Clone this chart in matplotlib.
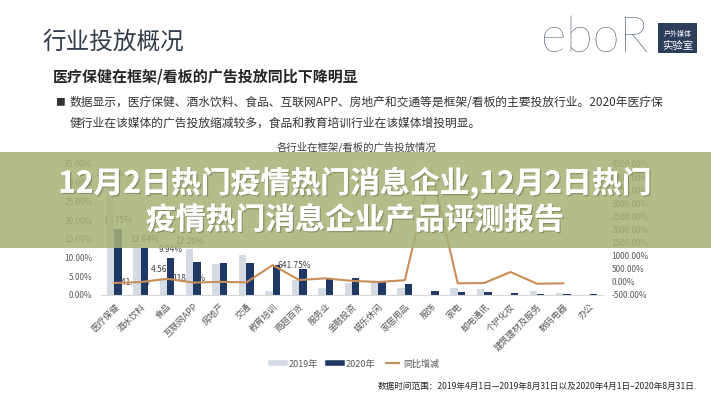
import numpy as np
import matplotlib
matplotlib.use("Agg")
import matplotlib.pyplot as plt
from matplotlib.lines import Line2D
from matplotlib.patches import Rectangle
import matplotlib.patheffects as pe

plt.rcParams['font.family'] = ['Noto Sans CJK SC', 'DejaVu Sans']

# ---------------- data ----------------
categories = ['医疗保健', '酒水饮料', '食品', '互联网APP', '房地产', '交通', '教育培训',
              '商超百货', '服务业', '金融投资', '娱乐休闲', '家居用品', '服饰', '家电',
              '邮电通讯', '个护化妆', '建筑建材及服务', '数码电器', '办公']
share_2019 = [30.35, 13.50, 4.56, 12.20, 8.30, 10.70, 1.08, 4.00, 1.95, 3.30,
              3.50, 1.80, 0.03, 1.97, 1.60, 0.13, 1.15, 0.60, 0.00]
share_2020 = [17.75, 12.64, 9.94, 8.90, 8.60, 8.60, 8.01, 6.90, 4.60, 4.60,
              3.40, 2.96, 1.10, 0.90, 0.90, 0.62, 0.35, 0.27, 0.25]
yoy_change = [-41.51, -6.37, 118.13, -27.05, 3.61, -19.63, 641.75, 72.50, 135.90, 39.40,
              -2.90, 64.40, 4300.00, -54.30, -43.80, 377.00, -69.60, -55.00, float('nan')]
left_ticks = [0, 5, 10, 15, 20, 25, 30, 35]
right_ticks = [-500, 0, 500, 1000, 1500, 2000, 2500, 3000, 3500, 4000, 4500]
# labelled values: (category index, series, text)
bar_labels = [(0, '2019', '30.35%'), (0, '2020', '17.75%'), (1, '2020', '12.64%'),
              (2, '2019', '4.56%'), (2, '2020', '9.94%'), (3, '2019', '12.20%')]
line_labels = [(0, '-41.51%'), (2, '118.13%'), (6, '641.75%')]

legend_names = ['2019年', '2020年', '同比增减']

# ---------------- style ----------------
W, H = 711, 400
C19 = '#d5dbe4'
C20 = '#1f3864'
CLINE = '#c98e58'
GRAY = '#595959'

fig = plt.figure(figsize=(W / 100, H / 100), dpi=100)
fig.patch.set_facecolor('white')

def fx(px):
    return px / W

def fy(py):
    return 1 - py / H

ax = fig.add_axes([fx(101), fy(295), fx(603) - fx(101), fy(164) - fy(295)])
ax.set_facecolor('none')
x = np.arange(len(categories))
bw = 0.28
ax.bar(x - bw / 2, share_2019, bw, color=C19, zorder=2)
ax.bar(x + bw / 2, share_2020, bw, color=C20, zorder=2)
ax.set_xlim(-0.5, len(categories) - 0.5)
ax.set_ylim(left_ticks[0], left_ticks[-1])
ax.set_yticks(left_ticks)
ax.set_yticklabels([f'{v:.2f}%' for v in left_ticks])
ax.tick_params(axis='y', length=0, pad=6, labelsize=6, labelcolor=GRAY)
ax.set_xticks(x)
ax.set_xticklabels(categories, rotation=45, ha='right', va='top',
                   rotation_mode='anchor', fontsize=6.4, color=GRAY)
ax.tick_params(axis='x', length=0, pad=5)
for s in ['top', 'left', 'right']:
    ax.spines[s].set_visible(False)
ax.spines['bottom'].set_color('#d9d9d9')

ax2 = ax.twinx()
ax2.set_ylim(right_ticks[0], right_ticks[-1])
ax2.set_yticks(right_ticks)
ax2.set_yticklabels([f'{v:.2f}%' for v in right_ticks])
ax2.tick_params(axis='y', length=0, pad=6, labelsize=6, labelcolor=GRAY)
for s in ax2.spines.values():
    s.set_visible(False)
ax2.plot(x, yoy_change, color=CLINE, lw=1.5, zorder=3)

for i, ser, txt in bar_labels:
    if ser == '2019':
        xx, yy = x[i] - bw / 2, share_2019[i]
    else:
        xx, yy = x[i] + bw / 2, share_2020[i]
    ax.annotate(txt, (xx, yy), xytext=(0, 2.5), textcoords='offset points',
                ha='center', va='bottom', fontsize=6, color='#404040', zorder=1)
for i, txt in line_labels:
    ax.annotate(txt, (x[i], yoy_change[i]), xycoords=ax2.transData,
                xytext=(3.5, 0), textcoords='offset points',
                ha='left', va='center', fontsize=6, color='#404040', zorder=1)

# chart title
fig.text(fx(357), fy(147), '各行业在框架/看板的广告投放情况', ha='center', va='center',
         fontsize=7.5, color='#404040')

# legend
handles = [Line2D([], [], color=C19, lw=4), Line2D([], [], color=C20, lw=4),
           Line2D([], [], color=CLINE, lw=1.5)]
leg = fig.legend(handles, legend_names, loc='center', bbox_to_anchor=(fx(355), fy(364)),
                 ncol=3, frameon=False, fontsize=6.5, handlelength=1.5,
                 handletextpad=0.4, columnspacing=1.2)
for t in leg.get_texts():
    t.set_color(GRAY)

# footnote
fig.text(fx(697), fy(386), '数据时间范围：2019年4月1日—2019年8月31日以及2020年4月1日–2020年8月31日.',
         ha='right', va='center', fontsize=6.2, color='#262626')

# header
fig.text(fx(42), fy(42), '行业投放概况', ha='left', va='center', fontsize=17, color='#333d4a')
fig.text(fx(541), fy(38), 'eboR', ha='left', va='center', fontsize=35,
         family=['Lato', 'DejaVu Sans'], fontweight='light', color='#34445c')
fig.patches.append(Rectangle((fx(658), fy(53)), fx(697) - fx(658), fy(23) - fy(53),
                             transform=fig.transFigure, facecolor='#2c3e5c', edgecolor='none'))
fig.text(fx(677.5), fy(34), '户外媒体', ha='center', va='center', fontsize=5, color='white')
fig.text(fx(677.5), fy(46), '实验室', ha='center', va='center', fontsize=7.5, color='white')
fig.text(fx(53), fy(77), '医疗保健在框架/看板的广告投放同比下降明显', ha='left', va='center',
         fontsize=10.8, fontweight='bold', color='#262626')
fig.text(fx(55), fy(102), '■', ha='left', va='center', fontsize=7, color='#333333')
fig.text(fx(70), fy(102), '数据显示，医疗保健、酒水饮料、食品、互联网APP、房地产和交通等是框架/看板的主要投放行业。2020年医疗保',
         ha='left', va='center', fontsize=8.5, color='#333333')
fig.text(fx(70), fy(123), '健行业在该媒体的广告投放缩减较多，食品和教育培训行业在该媒体增投明显。',
         ha='left', va='center', fontsize=8.5, color='#333333')

# banner overlay
fig.patches.append(Rectangle((0, fy(248)), 1, fy(152) - fy(248), transform=fig.transFigure,
                             facecolor='#a6b276', edgecolor='none', alpha=0.86, zorder=10))
shadow = [pe.withSimplePatchShadow(offset=(1, -1), shadow_rgbFace='#5c6440', alpha=0.45), pe.Normal()]
fig.text(fx(355), fy(183), '12月2日热门疫情热门消息企业,12月2日热门', ha='center', va='center',
         fontsize=21.5, fontweight='bold', color='white', zorder=11, path_effects=shadow)
fig.text(fx(355), fy(220), '疫情热门消息企业产品评测报告', ha='center', va='center',
         fontsize=21.5, fontweight='bold', color='white', zorder=11, path_effects=shadow)

fig.savefig('out.png', dpi=100)
